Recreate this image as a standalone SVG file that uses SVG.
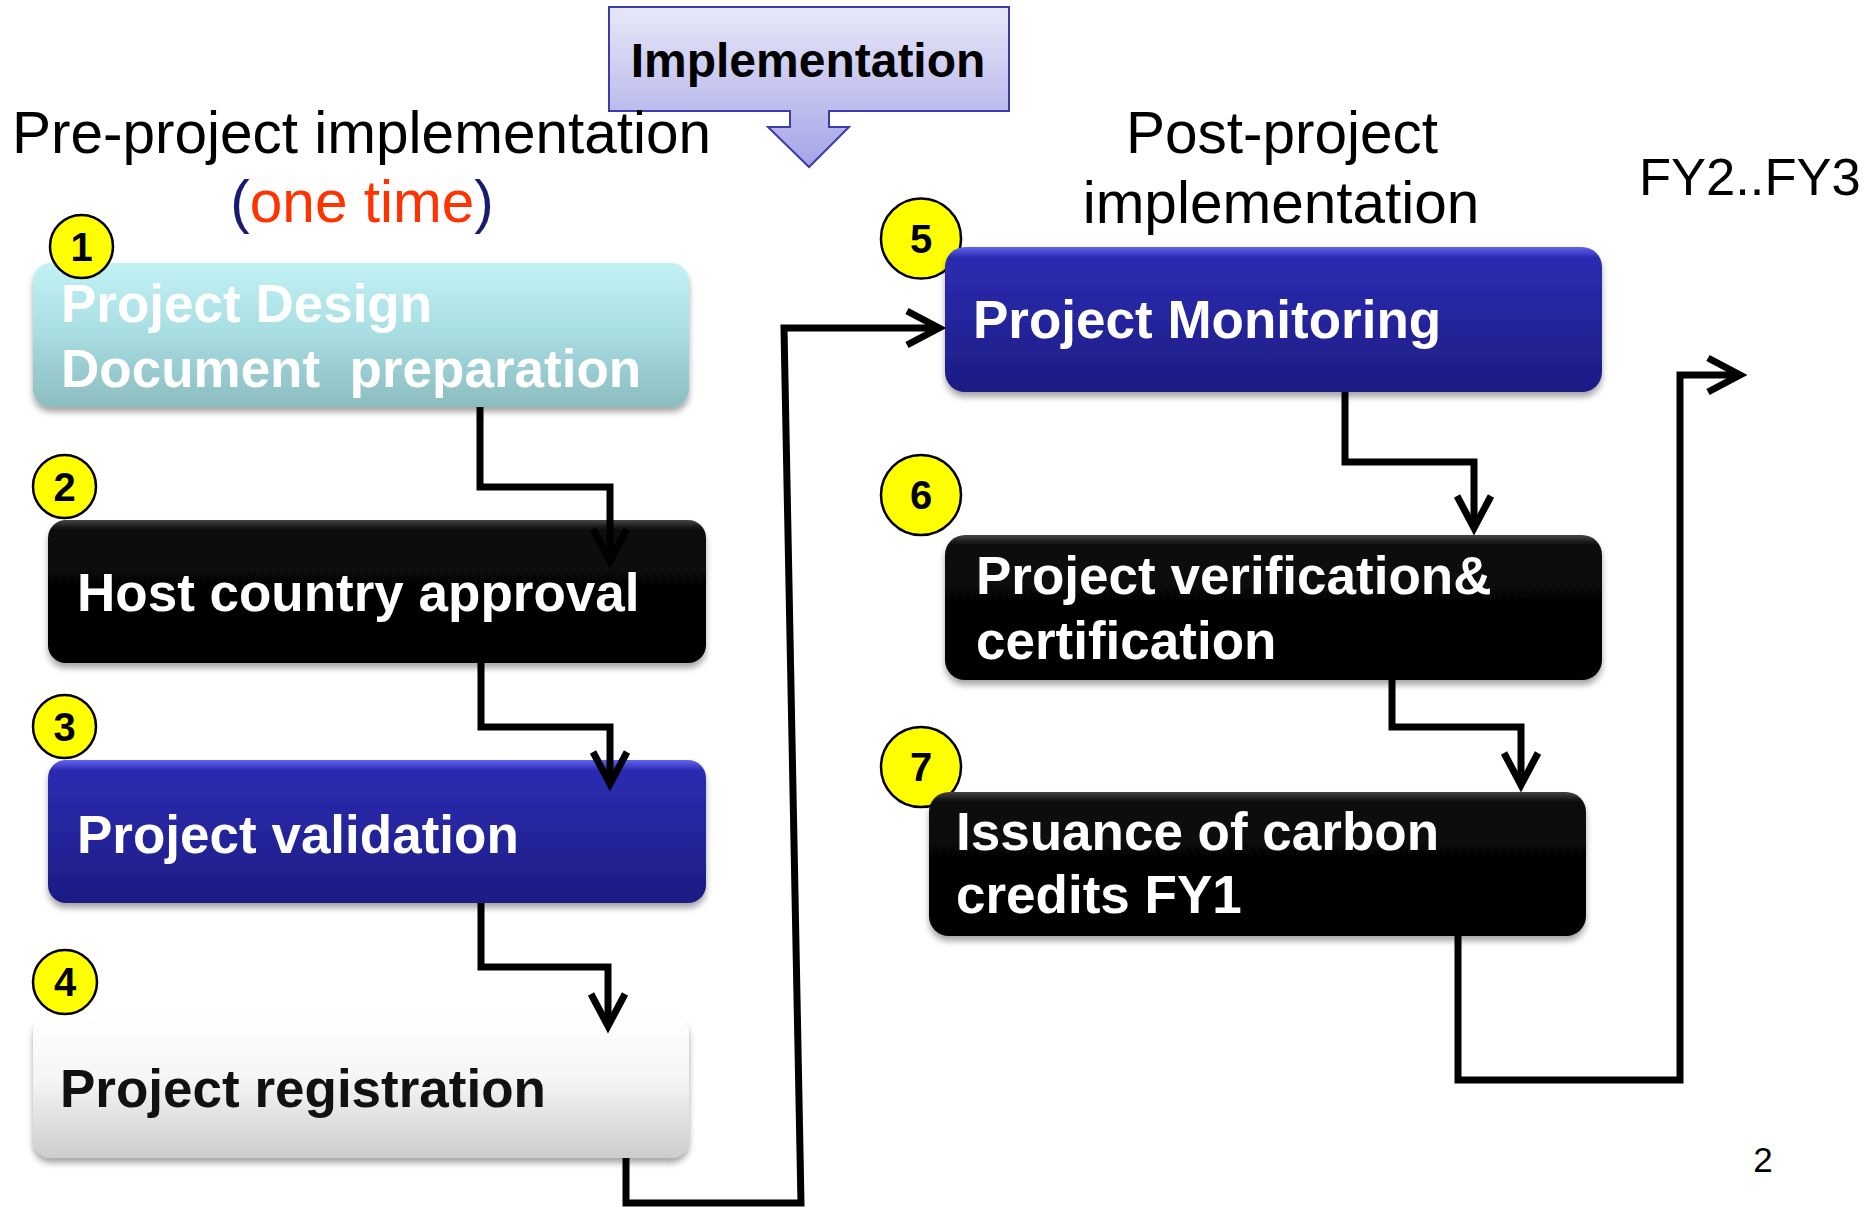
<svg xmlns="http://www.w3.org/2000/svg" width="1868" height="1207" viewBox="0 0 1868 1207">
  <defs>
    <linearGradient id="gCyan" x1="0" y1="0" x2="0" y2="1">
      <stop offset="0" stop-color="#c2f2f5"/>
      <stop offset="0.45" stop-color="#aadfe3"/>
      <stop offset="1" stop-color="#8bbcc0"/>
    </linearGradient>
    <linearGradient id="gBlue" x1="0" y1="0" x2="0" y2="1">
      <stop offset="0" stop-color="#6464f2"/>
      <stop offset="0.07" stop-color="#2c2cb2"/>
      <stop offset="1" stop-color="#1c1c84"/>
    </linearGradient>
    <linearGradient id="gBlack" x1="0" y1="0" x2="0" y2="1">
      <stop offset="0" stop-color="#444"/>
      <stop offset="0.07" stop-color="#0a0a0a"/>
      <stop offset="1" stop-color="#000"/>
    </linearGradient>
    <linearGradient id="gWhite" x1="0" y1="0" x2="0" y2="1">
      <stop offset="0" stop-color="#ffffff"/>
      <stop offset="0.45" stop-color="#f5f5f5"/>
      <stop offset="1" stop-color="#cdcdcd"/>
    </linearGradient>
    <linearGradient id="gLav" x1="0" y1="0" x2="0" y2="1">
      <stop offset="0" stop-color="#e8e8f9"/>
      <stop offset="1" stop-color="#a4a4e6"/>
    </linearGradient>
    <filter id="shadow" x="-5%" y="-10%" width="110%" height="130%">
      <feDropShadow dx="0" dy="5" stdDeviation="3" flood-color="#000" flood-opacity="0.35"/>
    </filter>
    <marker id="ah" markerUnits="userSpaceOnUse" orient="auto" refX="0" refY="0" overflow="visible">
      <path d="M-32,-17 L0,0 L-32,17" fill="none" stroke="#000" stroke-width="7" stroke-linejoin="miter"/>
    </marker>
    <style>
      .box { filter: url(#shadow); }
      .lbl { font-family: "Liberation Sans", Arial, sans-serif; font-weight: bold; font-size: 53px; white-space: pre; }
      .w { fill: #fff; }
      .k { fill: #111; }
      .badge { fill: #ffff00; stroke: #000; stroke-width: 2.5; }
      .num { font-family: "Liberation Sans", Arial, sans-serif; font-weight: bold; font-size: 40px; fill: #000; text-anchor: middle; }
      .hdr { font-family: "Liberation Sans", Arial, sans-serif; font-size: 58.5px; fill: #000; }
      .wire { fill: none; stroke: #000; stroke-width: 7; stroke-linejoin: miter; }
    </style>
  </defs>

  <rect width="1868" height="1207" fill="#fff"/>

  <!-- headings -->
  <g id="implementation">
    <path d="M609,7 H1009 V111 H829 V127 H849 L809,167 L768,127 H790 V111 H609 Z" fill="url(#gLav)" stroke="#3c3ca8" stroke-width="2"/>
    <text x="808" y="77" text-anchor="middle" font-family="Liberation Sans, Arial, sans-serif" font-weight="bold" font-size="48">Implementation</text>
  </g>
  <g id="pre-heading">
    <text class="hdr" x="12" y="153">Pre-project implementation</text>
    <text class="hdr" x="362" y="222" text-anchor="middle"><tspan fill="#1a1a6e">(</tspan><tspan fill="#ff3300">one time</tspan><tspan fill="#1a1a6e">)</tspan></text>
  </g>
  <g id="post-heading">
    <text class="hdr" x="1282" y="153" text-anchor="middle">Post-project</text>
    <text class="hdr" x="1281" y="223" text-anchor="middle">implementation</text>
  </g>
  <text id="fy23" x="1639" y="195" font-family="Liberation Sans, Arial, sans-serif" font-size="52.5">FY2..FY3</text>
  <text id="page" x="1763" y="1172" text-anchor="middle" font-family="Liberation Sans, Arial, sans-serif" font-size="35">2</text>

  <!-- step 1 -->
  <g id="node1">
    <rect class="box" x="33" y="263" width="656" height="144" rx="18" fill="url(#gCyan)"/>
    <text class="lbl w" x="61" y="322">Project Design</text>
    <text class="lbl w" x="61" y="387">Document  preparation</text>
    <circle class="badge" cx="81.5" cy="246.5" r="31.5"/>
    <text class="num" x="81.5" y="261">1</text>
  </g>

  <!-- step 2 -->
  <g id="node2">
    <rect class="box" x="48" y="520" width="658" height="143" rx="18" fill="url(#gBlack)"/>
    <text class="lbl w" x="77" y="611">Host country approval</text>
    <circle class="badge" cx="64.5" cy="486.5" r="31.5"/>
    <text class="num" x="64.5" y="501">2</text>
  </g>

  <!-- step 3 -->
  <g id="node3">
    <rect class="box" x="48" y="760" width="658" height="143" rx="18" fill="url(#gBlue)"/>
    <text class="lbl w" x="77" y="853">Project validation</text>
    <circle class="badge" cx="64.5" cy="726.5" r="31.5"/>
    <text class="num" x="64.5" y="741">3</text>
  </g>

  <!-- step 4 -->
  <g id="node4">
    <rect class="box" x="33" y="1015" width="656" height="143" rx="18" fill="url(#gWhite)"/>
    <text class="lbl k" x="60" y="1107">Project registration</text>
    <circle class="badge" cx="65" cy="982" r="32"/>
    <text class="num" x="65" y="996">4</text>
  </g>

  <!-- step 5 -->
  <g id="node5">
    <circle class="badge" cx="921" cy="238.5" r="40"/>
    <text class="num" x="921" y="253">5</text>
    <rect class="box" x="945" y="247" width="657" height="145" rx="20" fill="url(#gBlue)"/>
    <text class="lbl w" x="973" y="338">Project Monitoring</text>
  </g>

  <!-- step 6 -->
  <g id="node6">
    <circle class="badge" cx="921" cy="495" r="40"/>
    <text class="num" x="921" y="509">6</text>
    <rect class="box" x="945" y="535" width="657" height="145" rx="20" fill="url(#gBlack)"/>
    <text class="lbl w" x="976" y="594">Project verification&amp;</text>
    <text class="lbl w" x="976" y="659">certification</text>
  </g>

  <!-- step 7 -->
  <g id="node7">
    <circle class="badge" cx="921" cy="767" r="40"/>
    <text class="num" x="921" y="781">7</text>
    <rect class="box" x="929" y="792" width="657" height="144" rx="20" fill="url(#gBlack)"/>
    <text class="lbl w" x="956" y="850">Issuance of carbon</text>
    <text class="lbl w" x="956" y="913">credits FY1</text>
  </g>

  <!-- connectors, drawn over the boxes -->
  <g id="connectors">
    <path class="wire" d="M480,407 V487 H610 V561" marker-end="url(#ah)"/>
    <path class="wire" d="M481,663 V727 H610 V784" marker-end="url(#ah)"/>
    <path class="wire" d="M481,903 V967 H608 V1026" marker-end="url(#ah)"/>
    <path class="wire" d="M626,1158 V1203 H801 L784,328 H939" marker-end="url(#ah)"/>
    <path class="wire" d="M1345,392 V462 H1474 V528" marker-end="url(#ah)"/>
    <path class="wire" d="M1392,680 V727 H1521 V785" marker-end="url(#ah)"/>
    <path class="wire" d="M1458,936 V1080 H1680 V375 H1740" marker-end="url(#ah)"/>
  </g>
</svg>
